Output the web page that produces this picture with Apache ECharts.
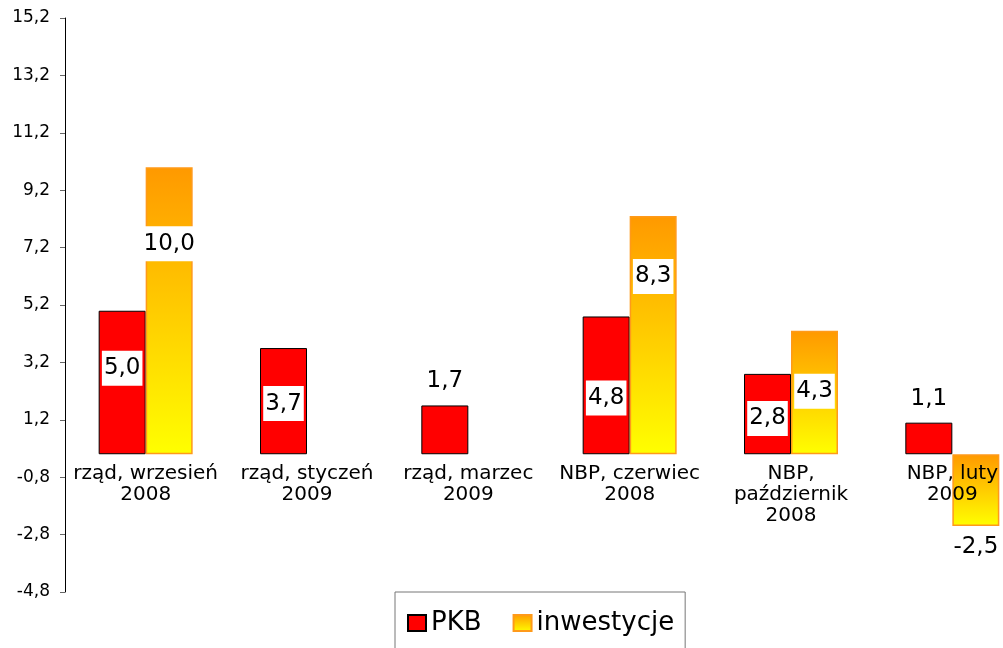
<!DOCTYPE html>
<html>
<head>
<meta charset="utf-8">
<script src="https://cdn.jsdelivr.net/npm/echarts@6/dist/echarts.min.js"></script>
<style>
  html, body { margin: 0; padding: 0; background: #fff; }
  #chart { width: 1003px; height: 648px; }
</style>
</head>
<body>
<div id="chart"></div>
<script>
// kategorie (prognozy)
const categories = [
  'rząd, wrzesień\n2008',
  'rząd, styczeń\n2009',
  'rząd, marzec\n2009',
  'NBP, czerwiec\n2008',
  'NBP,\npaździernik\n2008',
  'NBP, luty\n2009'
];
const pkb = [5.0, 3.7, 1.7, 4.8, 2.8, 1.1];
const inwestycje = [10.0, null, null, 8.3, 4.3, -2.5];

// położenie etykiet (jak w oryginale z Excela)
const pkbLabelPlace = [['insideTop', 40], ['insideTop', 38], ['top', 7], ['insideTop', 64], ['insideTop', 27], ['top', 6]];
const invLabelPlace = [['insideTop', 59], null, null, ['insideTop', 43], ['insideTop', 43], ['bottom', 4]];

const yMin = -4.8, yMax = 15.2;

const FONT = 'DejaVu Sans';
const fmt = v => v.toFixed(1).replace('.', ',');

function withLabels(values, places) {
  return values.map((v, i) => {
    if (v == null) return null;
    const p = places[i];
    return { value: v, label: { position: p[0], distance: p[1] } };
  });
}

const chart = echarts.init(document.getElementById('chart'));

const valueLabel = {
  show: true,
  formatter: p => fmt(p.value),
  color: '#000',
  fontFamily: FONT,
  fontSize: 23,
  backgroundColor: '#fff',
  padding: [6, 2]
};

chart.setOption({
  animation: false,
  grid: {
    left: 65, top: 18, width: 968, height: 574,
    containLabel: false,
    outerBoundsMode: 'none'
  },
  legend: {
    data: ['PKB', 'inwestycje'],
    left: 395,
    top: 592,
    orient: 'horizontal',
    icon: 'rect',
    itemWidth: 18,
    itemHeight: 16,
    itemGap: 31,
    padding: [18, 11, 30, 12],
    borderColor: '#777',
    borderWidth: 1,
    backgroundColor: '#fff',
    textStyle: { fontFamily: FONT, fontSize: 26, color: '#000' }
  },
  xAxis: {
    type: 'category',
    data: categories,
    position: 'bottom',
    z: 10,
    axisLine: { show: false, onZero: false },
    axisTick: { show: false },
    axisLabel: {
      interval: 0,
      margin: 9,
      color: '#000',
      fontFamily: FONT,
      fontSize: 20,
      lineHeight: 21
    }
  },
  yAxis: {
    type: 'value',
    min: yMin,
    max: yMax,
    interval: 2,
    splitLine: { show: false },
    axisLine: { show: true, lineStyle: { color: '#000', width: 1 } },
    axisTick: { show: true, length: 5, lineStyle: { color: '#666' } },
    axisLabel: {
      margin: 15,
      color: '#000',
      fontFamily: FONT,
      fontSize: 17,
      formatter: v => fmt(v)
    }
  },
  series: [
    {
      name: 'PKB',
      type: 'bar',
      barWidth: 47,
      barGap: '0%',
      data: withLabels(pkb, pkbLabelPlace),
      itemStyle: { color: '#ff0000', borderColor: '#000', borderWidth: 1 },
      label: valueLabel
    },
    {
      name: 'inwestycje',
      type: 'bar',
      barWidth: 47,
      data: withLabels(inwestycje, invLabelPlace),
      itemStyle: {
        color: new echarts.graphic.LinearGradient(0, 0, 0, 1, [
          { offset: 0, color: '#ff9900' },
          { offset: 1, color: '#ffff00' }
        ]),
        borderColor: '#ff9a1a',
        borderWidth: 1.5
      },
      label: valueLabel
    }
  ]
});

// etykiety kategorii przy linii zera (onZero nie działa tu)
const zeroY = chart.convertToPixel({ yAxisIndex: 0 }, 0);
const bottomY = chart.convertToPixel({ yAxisIndex: 0 }, yMin);
chart.setOption({ xAxis: { offset: zeroY - bottomY } });
</script>
</body>
</html>
